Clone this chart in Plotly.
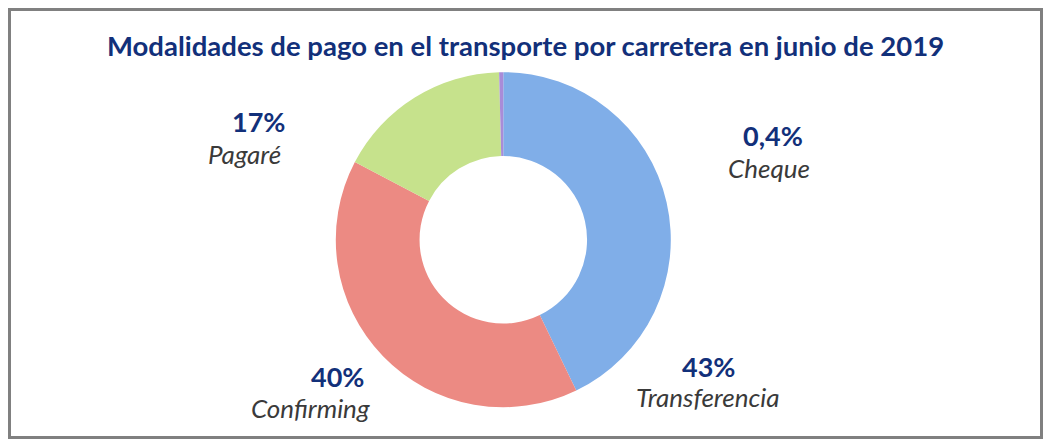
import plotly.graph_objects as go

categories = ["Transferencia", "Confirming", "Pagaré", "Cheque"]
values = [43, 40, 17, 0.4]
pct_labels = ["43%", "40%", "17%", "0,4%"]
colors = ["#80AEE8", "#EC8A83", "#C6E28C", "#A98CD8"]

W, H = 1047, 445
cx, cy, r = 503.3, 239.7, 167.5

fig = go.Figure(go.Pie(
    labels=categories,
    values=values,
    hole=0.5,
    sort=False,
    direction="clockwise",
    rotation=0,
    marker=dict(colors=colors, line=dict(width=0)),
    textinfo="none",
    hoverinfo="label+percent",
    showlegend=False,
    domain=dict(x=[(cx - r) / W, (cx + r) / W], y=[1 - (cy + r) / H, 1 - (cy - r) / H]),
))

# label positions (pixel centers) for percentage and name
pct_pos = {"Transferencia": (708, 366), "Confirming": (337, 376), "Pagaré": (258, 122), "Cheque": (773, 136)}
name_pos = {"Transferencia": (708, 397), "Confirming": (310, 408), "Pagaré": (244, 154), "Cheque": (769, 168)}

annotations = []
for cat, p in zip(categories, pct_labels):
    px, py = pct_pos[cat]
    annotations.append(dict(x=px / W, y=1 - py / H, xref="paper", yref="paper", text="<b>" + p + "</b>",
                            showarrow=False, xanchor="center", yanchor="middle",
                            font=dict(family="Lato", size=27, color="#12307A")))
    nx, ny = name_pos[cat]
    annotations.append(dict(x=nx / W, y=1 - ny / H, xref="paper", yref="paper",
                            text="<i>" + cat + "</i>",
                            showarrow=False, xanchor="center", yanchor="middle",
                            font=dict(family="Lato", size=26, color="#3A3A3A")))

annotations.append(dict(x=525 / W, y=1 - 45 / H, xref="paper", yref="paper",
                        text="<b>Modalidades de pago en el transporte por carretera en junio de 2019</b>",
                        showarrow=False, xanchor="center", yanchor="middle",
                        font=dict(family="Lato", size=27.5, color="#12307A")))

fig.update_layout(
    width=W, height=H,
    margin=dict(l=0, r=0, t=0, b=0),
    paper_bgcolor="white",
    plot_bgcolor="white",
    annotations=annotations,
    shapes=[dict(type="rect", xref="paper", yref="paper",
                 x0=9.5 / W, x1=1041.5 / W, y0=1 - 437.5 / H, y1=1 - 9.5 / H,
                 line=dict(color="#808080", width=3), fillcolor="rgba(0,0,0,0)")],
)

fig.write_html("out.html")
